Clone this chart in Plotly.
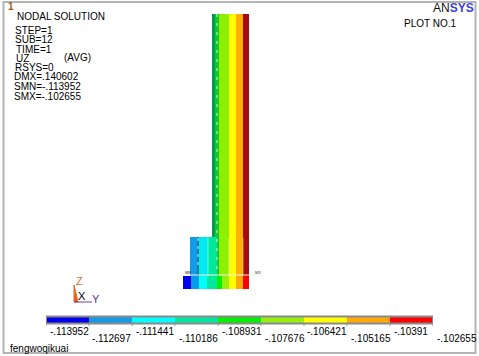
import plotly.graph_objects as go

W, H = 479, 356
FONT = "Liberation Sans"

# Contour legend
levels = [-.113952, -.112697, -.111441, -.110186, -.108931, -.107676, -.106421, -.105165, -.10391, -.102655]
level_labels = ["-.113952", "-.112697", "-.111441", "-.110186", "-.108931", "-.107676", "-.106421", "-.105165", "-.10391", "-.102655"]
level_colors = ["#0000e8", "#149be8", "#00ffff", "#00e8a0", "#00f000", "#98f010", "#ffff00", "#ffa808", "#ff0000"]

# Model bands: (left, right, colour)
column_edges = [212, 215, 219, 229, 236, 243, 249]
column_colors = ["#009a55", "#12c72a", "#8cf000", "#ffff00", "#ffb000", "#a80a10"]
block_edges = [190, 197, 199, 208, 217, 219, 229, 236, 243, 249]
block_colors = ["#149be8", "#0b7fa0", "#00e8f0", "#00e8a0", "#10c830", "#8cf000", "#ffff00", "#ffb000", "#a80a10"]
base_edges = [183, 191, 199, 207, 217, 222, 229, 236, 243, 249]
base_colors = ["#0000e8", "#0a9be8", "#00ffff", "#00e8a0", "#00f000", "#98f010", "#ffff00", "#ffa808", "#ff0000"]

column_top, column_bottom = 14, 237
block_top, block_bottom = 237, 276
base_top, base_bottom = 276, 289

info_lines = [("NODAL SOLUTION", 15, 16.5), ("STEP=1", 13, 30), ("SUB=12", 13, 39.5), ("TIME=1", 14, 49.5),
              ("UZ", 14, 58.5), ("(AVG)", 62, 57), ("RSYS=0", 13, 67), ("DMX=.140602", 12, 76.5),
              ("SMN=-.113952", 12, 86), ("SMX=-.102655", 12, 96.5), ("PLOT NO.1", 402, 23),
              ("fengwoqikuai", 8, 348)]

fig = go.Figure()


def bands(edges, colors, top, bottom):
    for i, c in enumerate(colors):
        fig.add_trace(go.Bar(x=[(edges[i] + edges[i + 1]) / 2], y=[bottom - top], base=[top],
                             width=[edges[i + 1] - edges[i]], marker=dict(color=c, line=dict(width=0)),
                             hoverinfo="skip", showlegend=False))


bands(column_edges, column_colors, column_top, column_bottom)
bands(block_edges, block_colors, block_top, block_bottom)
bands(base_edges, base_colors, base_top, base_bottom)

# mesh lines
fig.add_trace(go.Scatter(x=[217, 217], y=[14, 270], mode="lines", line=dict(color="#d8f8d8", width=1, dash="3px,6px"),
                         hoverinfo="skip", showlegend=False))
fig.add_trace(go.Scatter(x=[198, 198], y=[238, 270], mode="lines", line=dict(color="#d8f0ff", width=1, dash="3px,5px"),
                         hoverinfo="skip", showlegend=False))
for xv, col in [(208, "#c0fff0"), (229, "#f8ffc0"), (243, "#ffe0a0")]:
    fig.add_trace(go.Scatter(x=[xv, xv], y=[238, 276], mode="lines", line=dict(color=col, width=0.6),
                             hoverinfo="skip", showlegend=False))
fig.add_trace(go.Scatter(x=[186, 262], y=[275, 275], mode="lines", line=dict(color="#f4f4e0", width=1),
                         hoverinfo="skip", showlegend=False))

# legend bar on its own value axis
for i, c in enumerate(level_colors):
    fig.add_trace(go.Bar(x=[levels[i + 1] - levels[i]], y=[320], base=[levels[i]], width=[7], orientation="h",
                         xaxis="x2", yaxis="y", marker=dict(color=c, line=dict(width=0)),
                         hoverinfo="skip", showlegend=False))

# triad
fig.add_trace(go.Scatter(x=[74, 74, 78, 74], y=[285, 302, 302, 285], mode="lines", fill="toself", fillcolor="#f0581a",
                         line=dict(color="#e07030", width=1), hoverinfo="skip", showlegend=False))
fig.add_trace(go.Scatter(x=[74, 92], y=[302, 302], mode="lines", line=dict(color="#7040a0", width=1),
                         hoverinfo="skip", showlegend=False))

ann = []
for t, x, y in info_lines:
    ann.append(dict(x=x, y=y, text=t, xref="x", yref="y", xanchor="left", yanchor="middle", showarrow=False,
                    font=dict(family=FONT, size=10, color="#000")))
for i, t in enumerate(level_labels):
    ann.append(dict(x=levels[i], y=331 if i % 2 == 0 else 338, text=t, xref="x2", yref="y", xanchor="left",
                    yanchor="middle", xshift=1.5, showarrow=False, font=dict(family=FONT, size=10, color="#000")))
ann += [
    dict(x=6, y=6.5, text="<b>1</b>", font=dict(family=FONT, size=10, color="#a05a10")),
    dict(x=74, y=281, text="Z", font=dict(family=FONT, size=11, color="#c87828")),
    dict(x=76, y=296, text="X", font=dict(family=FONT, size=11, color="#000")),
    dict(x=90, y=298.5, text="Y", font=dict(family=FONT, size=11, color="#6030a0")),
    dict(x=431, y=8, text="AN<span style='color:#4040e0'><b>SYS</b></span>", font=dict(family=FONT, size=12, color="#111")),
    dict(x=183, y=272.5, text="MN", font=dict(family=FONT, size=4, color="#111")),
    dict(x=253, y=272.5, text="MX", font=dict(family=FONT, size=4, color="#333")),
]
for a in ann:
    a.setdefault("xref", "x"); a.setdefault("yref", "y"); a.setdefault("xanchor", "left")
    a.setdefault("yanchor", "middle"); a.setdefault("showarrow", False)

# bar ticks and frames as shapes
shapes = [dict(type="rect", xref="x", yref="y", x0=3.5, y0=2, x1=475.5, y1=353, line=dict(color="#b4b4b4", width=2)),
          dict(type="rect", xref="x2", yref="y", x0=levels[0], x1=levels[-1], y0=316.5, y1=323.5,
               line=dict(color="#8a8a8a", width=2))]
for lv in levels:
    shapes.append(dict(type="line", xref="x2", yref="y", x0=lv, x1=lv, y0=324, y1=326, line=dict(color="#999", width=1)))

fig.update_layout(
    width=W, height=H, autosize=False, margin=dict(l=0, r=0, t=0, b=0), barmode="overlay", bargap=0,
    paper_bgcolor="white", plot_bgcolor="rgba(0,0,0,0)", annotations=ann, shapes=shapes, showlegend=False,
    xaxis=dict(range=[0, W], domain=[0, 1], visible=False, fixedrange=True),
    xaxis2=dict(range=[levels[0], levels[-1]], domain=[46 / W, 433 / W], visible=False, anchor="y", fixedrange=True),
    yaxis=dict(range=[H, 0], domain=[0, 1], visible=False, fixedrange=True),
)
fig.write_html("out.html", config=dict(displayModeBar=False), default_width=W, default_height=H,
               post_script="document.body.style.margin='0';")
